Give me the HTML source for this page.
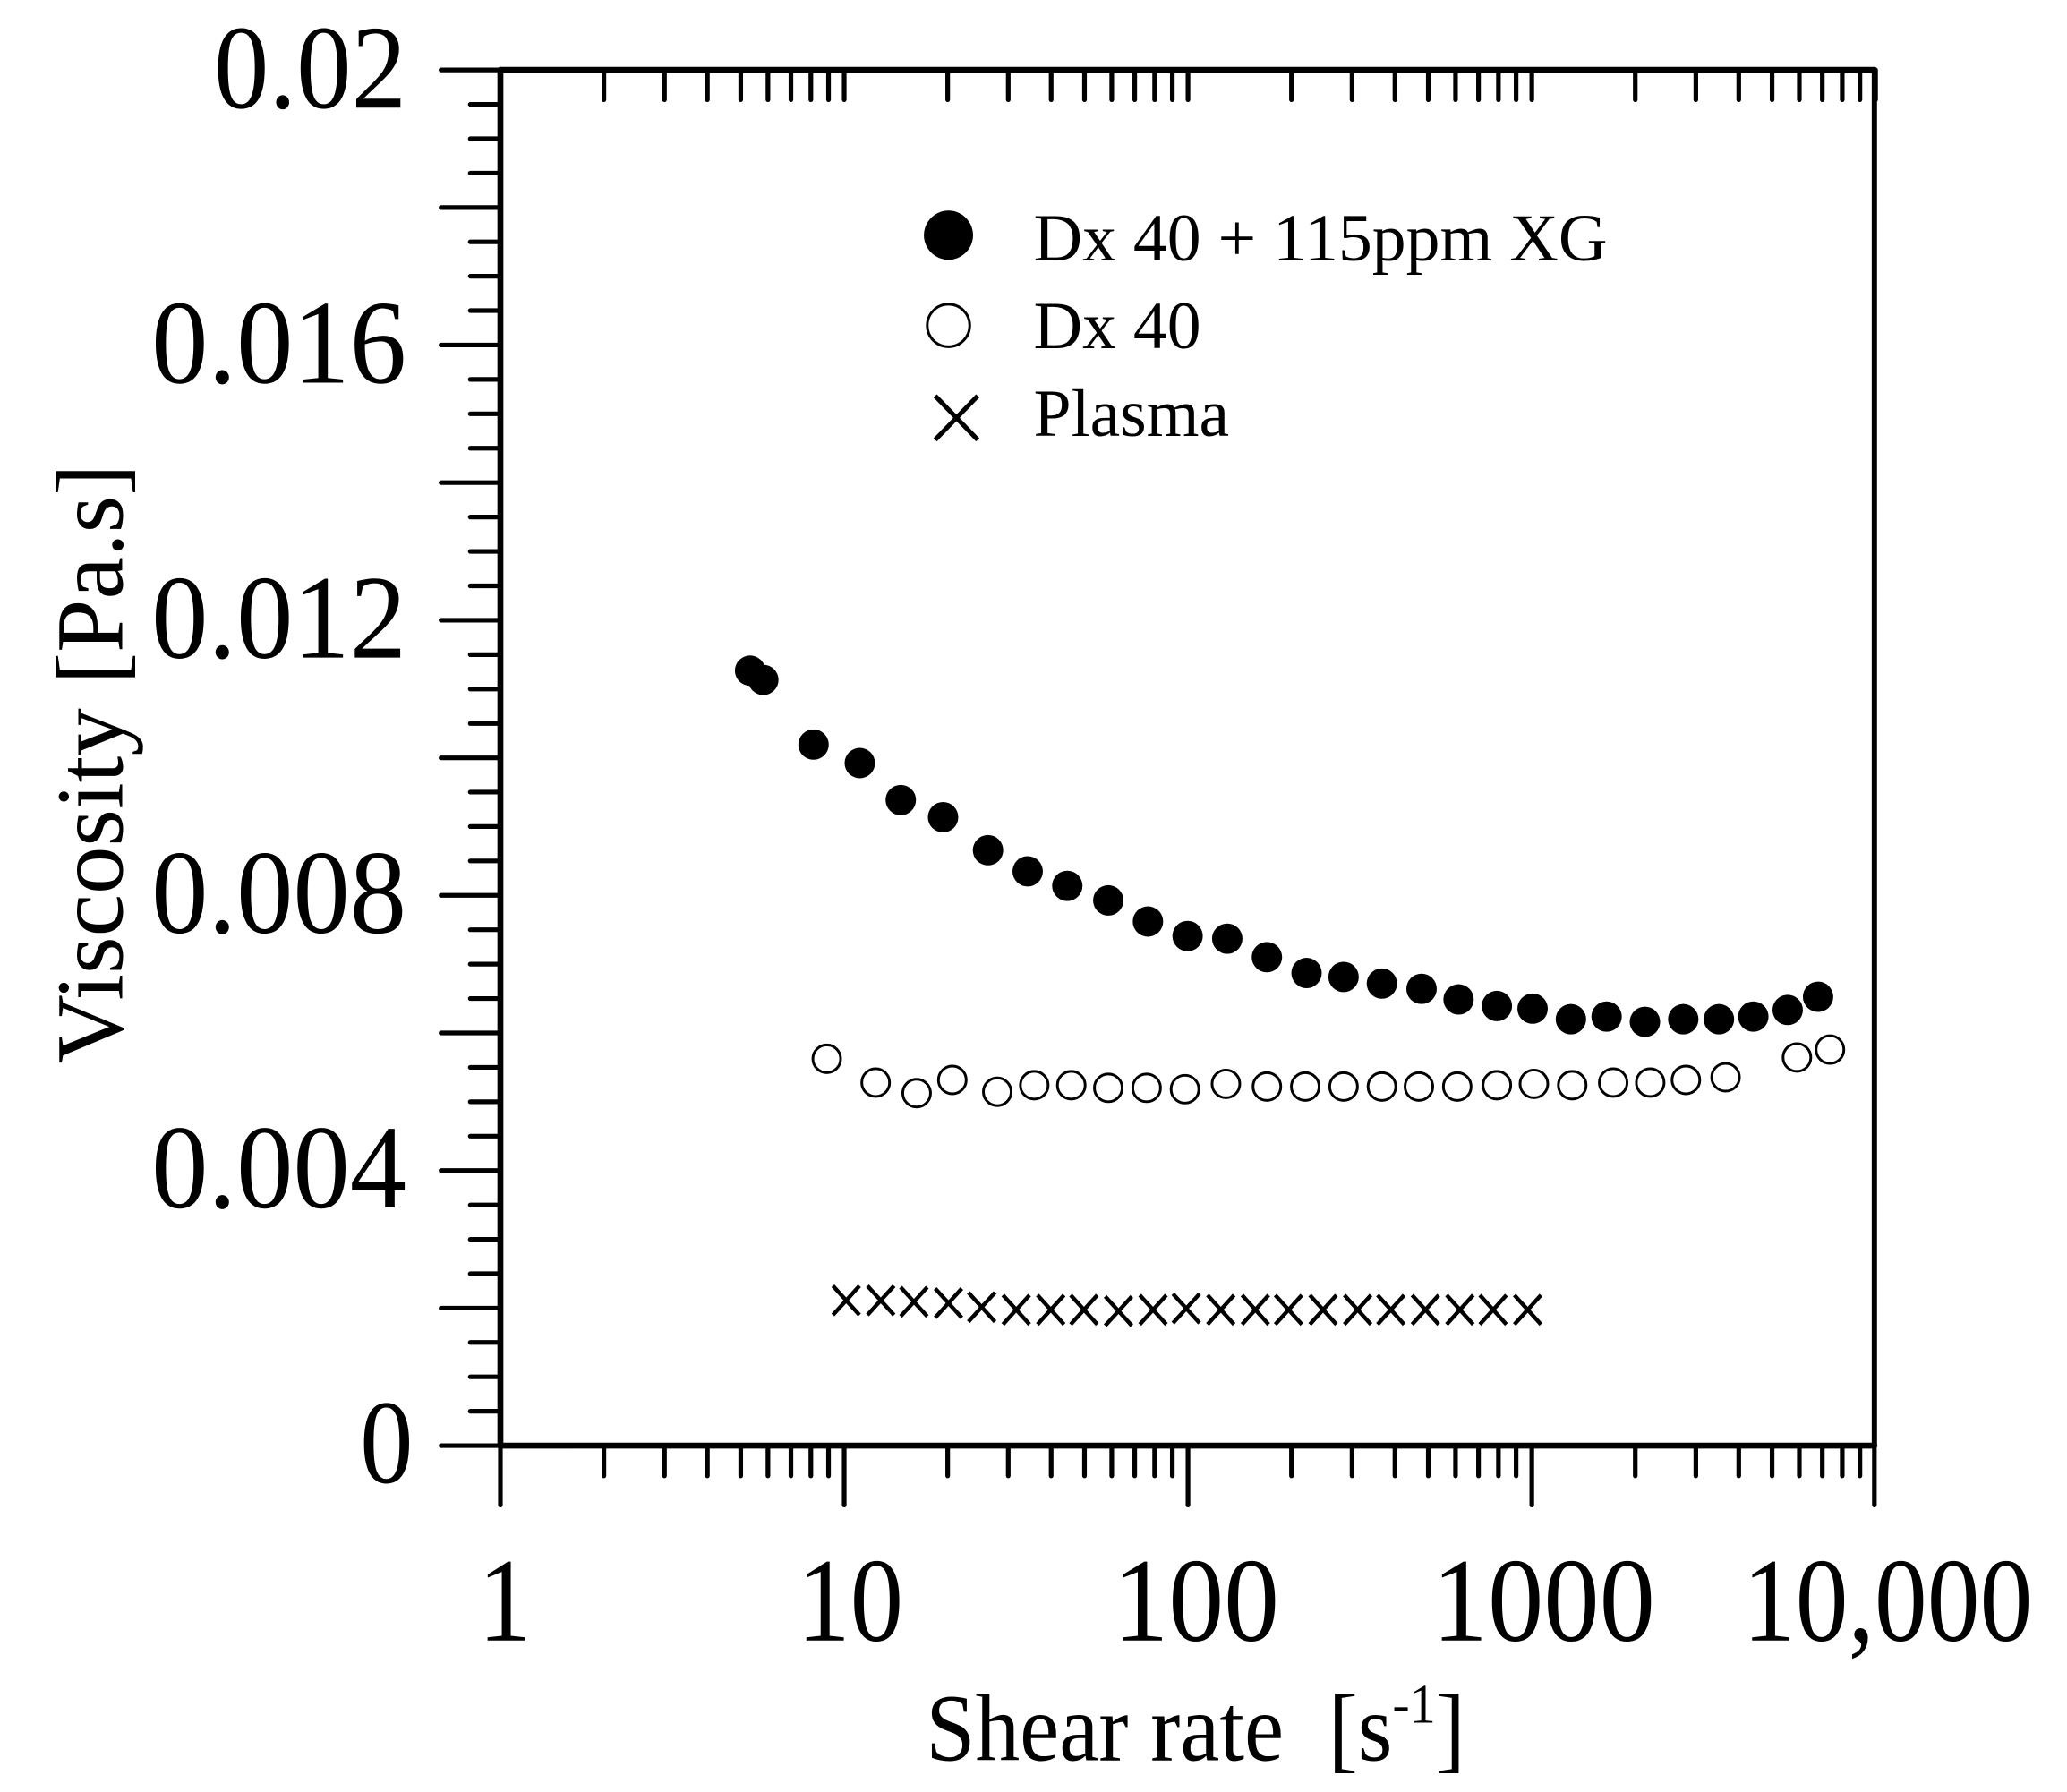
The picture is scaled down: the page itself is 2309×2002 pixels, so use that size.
<!DOCTYPE html>
<html><head><meta charset="utf-8"><style>html,body{margin:0;padding:0;background:#fff}svg{display:block}</style></head>
<body>
<svg width="2309" height="2002" viewBox="0 0 1556 1349" xmlns="http://www.w3.org/2000/svg" font-family="'Liberation Serif', serif">
<rect width="1556" height="1349" fill="#fff"/>
<g stroke="#000" stroke-width="3.5" stroke-linecap="round">
<line x1="376.7" y1="52.6" x2="1411" y2="52.6" stroke-width="4.5"/>
<line x1="376.7" y1="52.6" x2="376.7" y2="1088.3" stroke-width="4.5"/>
<line x1="376.7" y1="1088.3" x2="1411" y2="1088.3" stroke-width="4.5"/>
<line x1="1411" y1="52.6" x2="1411" y2="1088.3" stroke-width="4"/>
<line x1="332" y1="52.6" x2="376.7" y2="52.6"/><line x1="354" y1="78.5" x2="376.7" y2="78.5"/><line x1="354" y1="104.4" x2="376.7" y2="104.4"/><line x1="354" y1="130.3" x2="376.7" y2="130.3"/><line x1="332" y1="156.2" x2="376.7" y2="156.2"/><line x1="354" y1="182.0" x2="376.7" y2="182.0"/><line x1="354" y1="207.9" x2="376.7" y2="207.9"/><line x1="354" y1="233.8" x2="376.7" y2="233.8"/><line x1="332" y1="259.7" x2="376.7" y2="259.7"/><line x1="354" y1="285.6" x2="376.7" y2="285.6"/><line x1="354" y1="311.5" x2="376.7" y2="311.5"/><line x1="354" y1="337.4" x2="376.7" y2="337.4"/><line x1="332" y1="363.3" x2="376.7" y2="363.3"/><line x1="354" y1="389.2" x2="376.7" y2="389.2"/><line x1="354" y1="415.1" x2="376.7" y2="415.1"/><line x1="354" y1="441.0" x2="376.7" y2="441.0"/><line x1="332" y1="466.9" x2="376.7" y2="466.9"/><line x1="354" y1="492.8" x2="376.7" y2="492.8"/><line x1="354" y1="518.7" x2="376.7" y2="518.7"/><line x1="354" y1="544.6" x2="376.7" y2="544.6"/><line x1="332" y1="570.5" x2="376.7" y2="570.5"/><line x1="354" y1="596.3" x2="376.7" y2="596.3"/><line x1="354" y1="622.2" x2="376.7" y2="622.2"/><line x1="354" y1="648.1" x2="376.7" y2="648.1"/><line x1="332" y1="674.0" x2="376.7" y2="674.0"/><line x1="354" y1="699.9" x2="376.7" y2="699.9"/><line x1="354" y1="725.8" x2="376.7" y2="725.8"/><line x1="354" y1="751.7" x2="376.7" y2="751.7"/><line x1="332" y1="777.6" x2="376.7" y2="777.6"/><line x1="354" y1="803.5" x2="376.7" y2="803.5"/><line x1="354" y1="829.4" x2="376.7" y2="829.4"/><line x1="354" y1="855.3" x2="376.7" y2="855.3"/><line x1="332" y1="881.2" x2="376.7" y2="881.2"/><line x1="354" y1="907.1" x2="376.7" y2="907.1"/><line x1="354" y1="933.0" x2="376.7" y2="933.0"/><line x1="354" y1="958.9" x2="376.7" y2="958.9"/><line x1="332" y1="984.8" x2="376.7" y2="984.8"/><line x1="354" y1="1010.6" x2="376.7" y2="1010.6"/><line x1="354" y1="1036.5" x2="376.7" y2="1036.5"/><line x1="354" y1="1062.4" x2="376.7" y2="1062.4"/><line x1="332" y1="1088.3" x2="376.7" y2="1088.3"/>
</g>
<g id="xt" stroke="#000" stroke-width="3.5" stroke-linecap="round">
<line x1="376.7" y1="1088.3" x2="376.7" y2="1133"/>
<line x1="454.6" y1="1088.3" x2="454.6" y2="1111"/><line x1="500.2" y1="1088.3" x2="500.2" y2="1111"/><line x1="532.5" y1="1088.3" x2="532.5" y2="1111"/><line x1="557.6" y1="1088.3" x2="557.6" y2="1111"/><line x1="578.1" y1="1088.3" x2="578.1" y2="1111"/><line x1="595.4" y1="1088.3" x2="595.4" y2="1111"/><line x1="610.4" y1="1088.3" x2="610.4" y2="1111"/><line x1="623.7" y1="1088.3" x2="623.7" y2="1111"/>
<line x1="454.6" y1="52.6" x2="454.6" y2="75"/><line x1="500.2" y1="52.6" x2="500.2" y2="75"/><line x1="532.5" y1="52.6" x2="532.5" y2="75"/><line x1="557.6" y1="52.6" x2="557.6" y2="75"/><line x1="578.1" y1="52.6" x2="578.1" y2="75"/><line x1="595.4" y1="52.6" x2="595.4" y2="75"/><line x1="610.4" y1="52.6" x2="610.4" y2="75"/><line x1="623.7" y1="52.6" x2="623.7" y2="75"/>
<line x1="635.5" y1="52.6" x2="635.5" y2="75"/>
</g>
<use href="#xt" x="258.8"/><use href="#xt" x="517.6"/><use href="#xt" x="776.4"/>
<line x1="1411" y1="1088.3" x2="1411" y2="1133" stroke="#000" stroke-width="3.5" stroke-linecap="round"/>
<g font-size="90" fill="#000" lengthAdjust="spacingAndGlyphs">
<text x="161" y="81" textLength="145" lengthAdjust="spacingAndGlyphs">0.02</text>
<text x="114" y="288" textLength="192" lengthAdjust="spacingAndGlyphs">0.016</text>
<text x="114" y="495" textLength="192" lengthAdjust="spacingAndGlyphs">0.012</text>
<text x="114" y="702" textLength="192" lengthAdjust="spacingAndGlyphs">0.008</text>
<text x="114" y="909" textLength="192" lengthAdjust="spacingAndGlyphs">0.004</text>
<text x="271" y="1116" textLength="40" lengthAdjust="spacingAndGlyphs">0</text>
</g>
<g font-size="90" fill="#000">
<text x="360" y="1235" textLength="40" lengthAdjust="spacingAndGlyphs">1</text>
<text x="600" y="1235" textLength="80" lengthAdjust="spacingAndGlyphs">10</text>
<text x="838" y="1235" textLength="125" lengthAdjust="spacingAndGlyphs">100</text>
<text x="1078" y="1235" textLength="168" lengthAdjust="spacingAndGlyphs">1000</text>
<text x="1312" y="1235" textLength="218" lengthAdjust="spacingAndGlyphs">10,000</text>
</g>
<text x="697" y="1325" font-size="72" textLength="406" lengthAdjust="spacingAndGlyphs">Shear rate&#160; [s<tspan font-size="42" dy="-28">-1</tspan><tspan dy="28">]</tspan></text>
<text transform="translate(92,575) rotate(-90)" font-size="72" text-anchor="middle">Viscosity [Pa.s]</text>
<circle cx="714" cy="177" r="18.5" fill="#000"/>
<circle cx="714" cy="245" r="16" fill="none" stroke="#000" stroke-width="2"/>
<path d="M704 298 L736 331 M736 298 L704 331" stroke="#000" stroke-width="3.5"/>
<g font-size="51"><text x="778" y="196">Dx 40 + 115ppm XG</text><text x="778" y="262">Dx 40</text><text x="778" y="328">Plasma</text></g>
<g transform="translate(-1.5,-2.1) scale(0.995,0.994)">
<g fill="#000">
<circle cx="569" cy="510" r="11.5"/><circle cx="579" cy="517" r="11.5"/><circle cx="617" cy="566" r="11.5"/><circle cx="652" cy="580" r="11.5"/><circle cx="683" cy="608" r="11.5"/><circle cx="715" cy="621" r="11.5"/><circle cx="749" cy="646" r="11.5"/><circle cx="779" cy="662" r="11.5"/><circle cx="809" cy="673" r="11.5"/><circle cx="840" cy="684" r="11.5"/><circle cx="870" cy="700" r="11.5"/><circle cx="900" cy="711" r="11.5"/><circle cx="930" cy="713" r="11.5"/><circle cx="960" cy="727" r="11.5"/><circle cx="990" cy="739" r="11.5"/><circle cx="1018" cy="742" r="11.5"/><circle cx="1047" cy="747" r="11.5"/><circle cx="1077" cy="751" r="11.5"/><circle cx="1105" cy="759" r="11.5"/><circle cx="1134" cy="764" r="11.5"/><circle cx="1161" cy="766" r="11.5"/><circle cx="1190" cy="774" r="11.5"/><circle cx="1217" cy="772" r="11.5"/><circle cx="1246" cy="776" r="11.5"/><circle cx="1275" cy="774" r="11.5"/><circle cx="1302" cy="774" r="11.5"/><circle cx="1328" cy="772" r="11.5"/><circle cx="1354" cy="767" r="11.5"/><circle cx="1377" cy="757" r="11.5"/>
</g>
<g fill="none" stroke="#000" stroke-width="2">
<circle cx="627" cy="804" r="10.5"/><circle cx="664" cy="822" r="10.5"/><circle cx="695" cy="830" r="10.5"/><circle cx="722" cy="820" r="10.5"/><circle cx="756" cy="829" r="10.5"/><circle cx="784" cy="824" r="10.5"/><circle cx="812" cy="824" r="10.5"/><circle cx="840" cy="826" r="10.5"/><circle cx="869" cy="826" r="10.5"/><circle cx="898" cy="827" r="10.5"/><circle cx="929" cy="823" r="10.5"/><circle cx="960" cy="825" r="10.5"/><circle cx="989" cy="825" r="10.5"/><circle cx="1018" cy="825" r="10.5"/><circle cx="1047" cy="825" r="10.5"/><circle cx="1075" cy="825" r="10.5"/><circle cx="1104" cy="825" r="10.5"/><circle cx="1134" cy="824" r="10.5"/><circle cx="1162" cy="823" r="10.5"/><circle cx="1191" cy="824" r="10.5"/><circle cx="1222" cy="822" r="10.5"/><circle cx="1250" cy="822" r="10.5"/><circle cx="1277" cy="820" r="10.5"/><circle cx="1307" cy="818" r="10.5"/><circle cx="1361" cy="803" r="10.5"/><circle cx="1386" cy="797" r="10.5"/>
</g>
</g>
<g stroke="#000" stroke-width="3" fill="none">
<path d="M627 968 l20 22 m0 -22 l-20 22"/><path d="M653 968 l20 22 m0 -22 l-20 22"/><path d="M678 969 l20 22 m0 -22 l-20 22"/><path d="M704 970 l20 22 m0 -22 l-20 22"/><path d="M729 973 l20 22 m0 -22 l-20 22"/><path d="M755 975 l20 22 m0 -22 l-20 22"/><path d="M781 975 l20 22 m0 -22 l-20 22"/><path d="M806 975 l20 22 m0 -22 l-20 22"/><path d="M832 976 l20 22 m0 -22 l-20 22"/><path d="M858 975 l20 22 m0 -22 l-20 22"/><path d="M883 974 l20 22 m0 -22 l-20 22"/><path d="M909 975 l20 22 m0 -22 l-20 22"/><path d="M935 975 l20 22 m0 -22 l-20 22"/><path d="M960 975 l20 22 m0 -22 l-20 22"/><path d="M986 975 l20 22 m0 -22 l-20 22"/><path d="M1012 975 l20 22 m0 -22 l-20 22"/><path d="M1037 975 l20 22 m0 -22 l-20 22"/><path d="M1063 975 l20 22 m0 -22 l-20 22"/><path d="M1089 975 l20 22 m0 -22 l-20 22"/><path d="M1114 975 l20 22 m0 -22 l-20 22"/><path d="M1140 975 l20 22 m0 -22 l-20 22"/>
</g>
</svg>
</body></html>
